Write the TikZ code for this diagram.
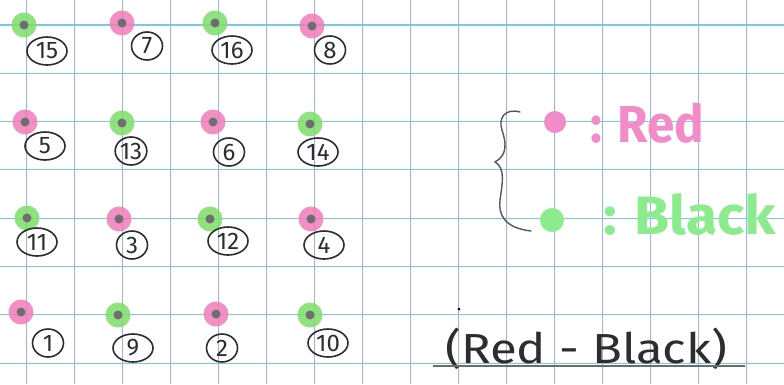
\documentclass[tikz,border=0pt]{standalone}
\usepackage{fontspec}
\setmainfont{Fira Sans}
\usetikzlibrary{shapes.geometric}
\definecolor{gridh}{RGB}{120,200,235}
\definecolor{gridv}{RGB}{150,180,230}
\definecolor{pinkc}{RGB}{240,125,185}
\definecolor{greenc}{RGB}{125,222,105}
\definecolor{pinkt}{RGB}{242,140,200}
\definecolor{greent}{RGB}{140,235,140}
\definecolor{coreg}{RGB}{110,110,110}
\definecolor{ink}{RGB}{45,45,45}
\tikzset{
  halo/.style={circle,inner sep=0pt,minimum size=25pt,fill=#1,opacity=0.85},
  core/.style={circle,inner sep=0pt,minimum size=9pt,fill=coreg},
  lab/.style={ellipse,draw=ink,line width=1.6pt,inner sep=0pt,minimum width=31pt,minimum height=28pt,font=\fontsize{24}{24}\selectfont,text=ink},
  labw/.style={lab,minimum width=40pt},
}
\begin{document}
\begin{tikzpicture}[x=1pt,y=-1pt]
\useasboundingbox (0,0) rectangle (784,384);
\fill[white] (0,0) rectangle (784,384);
% grid
\foreach \k in {0,...,15} \draw[gridv,line width=0.9pt] ({26+48*\k},0) -- ({26+48*\k},384);
\foreach \k in {0,...,7} \draw[gridh,line width=1.1pt] (0,{25+48.3*\k}) -- (784,{25+48.3*\k});
% dots
\foreach \n/\x/\y/\c in {15/24/25/greenc, 7/122/23/pinkc, 16/215/23/greenc, 8/312/26/pinkc,
  5/25/122/pinkc, 13/122/123/greenc, 6/213/122/pinkc, 14/310/124/greenc,
  11/27/218/greenc, 3/119/219/pinkc, 12/210/219/greenc, 4/311/219/pinkc,
  1/21/312/pinkc, 9/118/315/greenc, 2/216/314/pinkc, 10/310/315/greenc}{
  \node[halo=\c] (h\n) at (\x,\y) {};
  \node[core] (d\n) at (\x,\y) {};
}
% labels
\node[labw] (l15) at (47,51) {15};
\node[lab]  (l7)  at (147,46) {7};
\node[labw] (l16) at (232,50) {16};
\node[lab]  (l8)  at (330,50) {8};
\node[labw] (l5)  at (45,146) {5};
\node[lab]  (l13) at (131,151) {13};
\node[lab]  (l6)  at (229,152) {6};
\node[labw] (l14) at (318,152) {14};
\node[labw] (l11) at (37,242) {11};
\node[lab]  (l3)  at (132,245) {3};
\node[labw] (l12) at (228,241) {12};
\node[labw] (l4)  at (324,245) {4};
\node[lab]  (l1)  at (48,343) {1};
\node[labw] (l9)  at (133,348) {9};
\node[lab]  (l2)  at (222,348) {2};
\node[labw] (l10) at (328,343) {10};
% legend brace
\draw[ink!80,line width=1.4pt,line cap=round]
  (520,112) .. controls (505,108) and (498,118) .. (502,130)
  .. controls (506,142) and (508,155) .. (495,162)
  .. controls (506,168) and (502,185) .. (500,200)
  .. controls (498,215) and (505,228) .. (531,231);
\node[circle,fill=pinkt,inner sep=0pt,minimum size=22pt] (pr) at (555,122) {};
\node[anchor=base west,text=pinkt,font=\fontsize{52}{52}\selectfont\bfseries,inner sep=0pt,xscale=0.95] (tr) at (590,142) {: Red};
\node[circle,fill=greent,inner sep=0pt,minimum size=24pt] (pg) at (552,220) {};
\node[anchor=base west,text=greent,font=\fontsize{54}{54}\selectfont\bfseries,inner sep=0pt,xscale=1.05] (tb) at (603,234) {: Black};
% bottom title
\node[circle,fill=black,inner sep=0pt,minimum size=3pt] (sd) at (459,309) {};
\node[anchor=base west,text=ink,font=\fontsize{42}{42}\selectfont,inner sep=0pt,xscale=1.17] (tt) at (445,363) {(Red - Black)};
\coordinate (ul1) at (433,366);
\coordinate (ul2) at (745,366);
\draw[ink!70,line width=2.2pt] (ul1) -- (ul2);
\end{tikzpicture}
\end{document}
